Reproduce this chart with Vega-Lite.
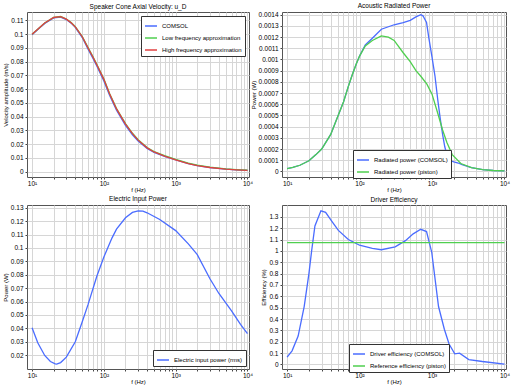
{
  "$schema": "https://vega.github.io/schema/vega-lite/v6.json",
  "padding": {"left": 1, "top": 2, "right": 2, "bottom": 0},
  "columns": 2,
  "align": "each",
  "bounds": "flush",
  "spacing": {"row": 28, "column": 33},
  "datasets": {
    "vel": [
      {"f":10,"v":0.0995,"s":"COMSOL"},{"f":12,"v":0.1032,"s":"COMSOL"},{"f":15,"v":0.1077,"s":"COMSOL"},{"f":20,"v":0.1117,"s":"COMSOL"},{"f":25,"v":0.1123,"s":"COMSOL"},{"f":30,"v":0.1105,"s":"COMSOL"},{"f":35,"v":0.1079,"s":"COMSOL"},{"f":40,"v":0.1049,"s":"COMSOL"},{"f":50,"v":0.0974,"s":"COMSOL"},{"f":60,"v":0.0892,"s":"COMSOL"},{"f":70,"v":0.0826,"s":"COMSOL"},{"f":80,"v":0.0765,"s":"COMSOL"},{"f":100,"v":0.0659,"s":"COMSOL"},{"f":120,"v":0.0554,"s":"COMSOL"},{"f":150,"v":0.0445,"s":"COMSOL"},{"f":200,"v":0.0336,"s":"COMSOL"},{"f":250,"v":0.0267,"s":"COMSOL"},{"f":300,"v":0.0221,"s":"COMSOL"},{"f":400,"v":0.0167,"s":"COMSOL"},{"f":500,"v":0.0138,"s":"COMSOL"},{"f":700,"v":0.0110,"s":"COMSOL"},{"f":1000,"v":0.0084,"s":"COMSOL"},{"f":1500,"v":0.0057,"s":"COMSOL"},{"f":2000,"v":0.0042,"s":"COMSOL"},{"f":3000,"v":0.0028,"s":"COMSOL"},{"f":5000,"v":0.0017,"s":"COMSOL"},{"f":7000,"v":0.0012,"s":"COMSOL"},{"f":10000,"v":0.0008,"s":"COMSOL"},
      {"f":10,"v":0.0998,"s":"Low frequency approximation"},{"f":12,"v":0.1035,"s":"Low frequency approximation"},{"f":15,"v":0.1080,"s":"Low frequency approximation"},{"f":20,"v":0.1121,"s":"Low frequency approximation"},{"f":25,"v":0.1127,"s":"Low frequency approximation"},{"f":30,"v":0.1109,"s":"Low frequency approximation"},{"f":35,"v":0.1083,"s":"Low frequency approximation"},{"f":40,"v":0.1053,"s":"Low frequency approximation"},{"f":50,"v":0.0982,"s":"Low frequency approximation"},{"f":60,"v":0.0903,"s":"Low frequency approximation"},{"f":70,"v":0.0838,"s":"Low frequency approximation"},{"f":80,"v":0.0778,"s":"Low frequency approximation"},{"f":100,"v":0.0673,"s":"Low frequency approximation"},{"f":120,"v":0.0568,"s":"Low frequency approximation"},{"f":150,"v":0.0458,"s":"Low frequency approximation"},{"f":200,"v":0.0348,"s":"Low frequency approximation"},{"f":250,"v":0.0278,"s":"Low frequency approximation"},{"f":300,"v":0.0231,"s":"Low frequency approximation"},{"f":400,"v":0.0175,"s":"Low frequency approximation"},{"f":500,"v":0.0145,"s":"Low frequency approximation"},{"f":700,"v":0.0115,"s":"Low frequency approximation"},{"f":1000,"v":0.0088,"s":"Low frequency approximation"},{"f":1500,"v":0.0061,"s":"Low frequency approximation"},{"f":2000,"v":0.0046,"s":"Low frequency approximation"},{"f":3000,"v":0.0032,"s":"Low frequency approximation"},{"f":5000,"v":0.0019,"s":"Low frequency approximation"},{"f":7000,"v":0.0014,"s":"Low frequency approximation"},{"f":10000,"v":0.0010,"s":"Low frequency approximation"},
      {"f":10,"v":0.0998,"s":"High frequency approximation"},{"f":12,"v":0.1035,"s":"High frequency approximation"},{"f":15,"v":0.1080,"s":"High frequency approximation"},{"f":20,"v":0.1120,"s":"High frequency approximation"},{"f":25,"v":0.1126,"s":"High frequency approximation"},{"f":30,"v":0.1108,"s":"High frequency approximation"},{"f":35,"v":0.1082,"s":"High frequency approximation"},{"f":40,"v":0.1052,"s":"High frequency approximation"},{"f":50,"v":0.0980,"s":"High frequency approximation"},{"f":60,"v":0.0900,"s":"High frequency approximation"},{"f":70,"v":0.0835,"s":"High frequency approximation"},{"f":80,"v":0.0775,"s":"High frequency approximation"},{"f":100,"v":0.0670,"s":"High frequency approximation"},{"f":120,"v":0.0565,"s":"High frequency approximation"},{"f":150,"v":0.0455,"s":"High frequency approximation"},{"f":200,"v":0.0345,"s":"High frequency approximation"},{"f":250,"v":0.0275,"s":"High frequency approximation"},{"f":300,"v":0.0228,"s":"High frequency approximation"},{"f":400,"v":0.0172,"s":"High frequency approximation"},{"f":500,"v":0.0142,"s":"High frequency approximation"},{"f":700,"v":0.0112,"s":"High frequency approximation"},{"f":1000,"v":0.0085,"s":"High frequency approximation"},{"f":1500,"v":0.0058,"s":"High frequency approximation"},{"f":2000,"v":0.0043,"s":"High frequency approximation"},{"f":3000,"v":0.0029,"s":"High frequency approximation"},{"f":5000,"v":0.0017,"s":"High frequency approximation"},{"f":7000,"v":0.0012,"s":"High frequency approximation"},{"f":10000,"v":0.0008,"s":"High frequency approximation"}
    ],
    "rad": [
      {"f":10,"p":0.000024,"s":"Radiated power (COMSOL)"},{"f":12,"p":0.000035,"s":"Radiated power (COMSOL)"},{"f":15,"p":0.000055,"s":"Radiated power (COMSOL)"},{"f":20,"p":0.000095,"s":"Radiated power (COMSOL)"},{"f":25,"p":0.00015,"s":"Radiated power (COMSOL)"},{"f":30,"p":0.0002,"s":"Radiated power (COMSOL)"},{"f":40,"p":0.00033,"s":"Radiated power (COMSOL)"},{"f":50,"p":0.00049,"s":"Radiated power (COMSOL)"},{"f":60,"p":0.00062,"s":"Radiated power (COMSOL)"},{"f":70,"p":0.00076,"s":"Radiated power (COMSOL)"},{"f":80,"p":0.00087,"s":"Radiated power (COMSOL)"},{"f":90,"p":0.00096,"s":"Radiated power (COMSOL)"},{"f":100,"p":0.00103,"s":"Radiated power (COMSOL)"},{"f":120,"p":0.00113,"s":"Radiated power (COMSOL)"},{"f":150,"p":0.00119,"s":"Radiated power (COMSOL)"},{"f":200,"p":0.00127,"s":"Radiated power (COMSOL)"},{"f":300,"p":0.00131,"s":"Radiated power (COMSOL)"},{"f":400,"p":0.00133,"s":"Radiated power (COMSOL)"},{"f":500,"p":0.00135,"s":"Radiated power (COMSOL)"},{"f":600,"p":0.00138,"s":"Radiated power (COMSOL)"},{"f":700,"p":0.0014,"s":"Radiated power (COMSOL)"},{"f":750,"p":0.00139,"s":"Radiated power (COMSOL)"},{"f":840,"p":0.00133,"s":"Radiated power (COMSOL)"},{"f":900,"p":0.0012,"s":"Radiated power (COMSOL)"},{"f":1000,"p":0.00102,"s":"Radiated power (COMSOL)"},{"f":1100,"p":0.00085,"s":"Radiated power (COMSOL)"},{"f":1200,"p":0.00064,"s":"Radiated power (COMSOL)"},{"f":1300,"p":0.00047,"s":"Radiated power (COMSOL)"},{"f":1400,"p":0.00033,"s":"Radiated power (COMSOL)"},{"f":1500,"p":0.00022,"s":"Radiated power (COMSOL)"},{"f":1650,"p":0.00012,"s":"Radiated power (COMSOL)"},{"f":1800,"p":0.000095,"s":"Radiated power (COMSOL)"},{"f":2000,"p":0.000085,"s":"Radiated power (COMSOL)"},{"f":2300,"p":0.000075,"s":"Radiated power (COMSOL)"},{"f":2600,"p":0.00006,"s":"Radiated power (COMSOL)"},{"f":3500,"p":0.000033,"s":"Radiated power (COMSOL)"},{"f":5000,"p":0.000015,"s":"Radiated power (COMSOL)"},{"f":7000,"p":0.000008,"s":"Radiated power (COMSOL)"},{"f":10000,"p":0.000004,"s":"Radiated power (COMSOL)"},
      {"f":10,"p":0.000024,"s":"Radiated power (piston)"},{"f":12,"p":0.000035,"s":"Radiated power (piston)"},{"f":15,"p":0.000055,"s":"Radiated power (piston)"},{"f":20,"p":0.000095,"s":"Radiated power (piston)"},{"f":25,"p":0.00015,"s":"Radiated power (piston)"},{"f":30,"p":0.0002,"s":"Radiated power (piston)"},{"f":40,"p":0.00033,"s":"Radiated power (piston)"},{"f":50,"p":0.00049,"s":"Radiated power (piston)"},{"f":60,"p":0.00062,"s":"Radiated power (piston)"},{"f":70,"p":0.00076,"s":"Radiated power (piston)"},{"f":80,"p":0.00087,"s":"Radiated power (piston)"},{"f":90,"p":0.00096,"s":"Radiated power (piston)"},{"f":100,"p":0.00103,"s":"Radiated power (piston)"},{"f":120,"p":0.00112,"s":"Radiated power (piston)"},{"f":150,"p":0.00117,"s":"Radiated power (piston)"},{"f":200,"p":0.00121,"s":"Radiated power (piston)"},{"f":250,"p":0.0012,"s":"Radiated power (piston)"},{"f":300,"p":0.00117,"s":"Radiated power (piston)"},{"f":400,"p":0.00106,"s":"Radiated power (piston)"},{"f":500,"p":0.00098,"s":"Radiated power (piston)"},{"f":600,"p":0.0009,"s":"Radiated power (piston)"},{"f":700,"p":0.00085,"s":"Radiated power (piston)"},{"f":850,"p":0.00078,"s":"Radiated power (piston)"},{"f":1000,"p":0.00069,"s":"Radiated power (piston)"},{"f":1200,"p":0.00052,"s":"Radiated power (piston)"},{"f":1400,"p":0.00037,"s":"Radiated power (piston)"},{"f":1600,"p":0.00026,"s":"Radiated power (piston)"},{"f":1900,"p":0.00015,"s":"Radiated power (piston)"},{"f":2500,"p":0.00007,"s":"Radiated power (piston)"},{"f":3500,"p":0.000033,"s":"Radiated power (piston)"},{"f":5000,"p":0.000015,"s":"Radiated power (piston)"},{"f":7000,"p":0.000008,"s":"Radiated power (piston)"},{"f":10000,"p":0.000004,"s":"Radiated power (piston)"}
    ],
    "elec": [
      {"f":10,"p":0.0404,"s":"Electric input power (rms)"},{"f":12,"p":0.0293,"s":"Electric input power (rms)"},{"f":15,"p":0.0198,"s":"Electric input power (rms)"},{"f":18,"p":0.0153,"s":"Electric input power (rms)"},{"f":21,"p":0.0135,"s":"Electric input power (rms)"},{"f":22,"p":0.0134,"s":"Electric input power (rms)"},{"f":25,"p":0.0145,"s":"Electric input power (rms)"},{"f":30,"p":0.0185,"s":"Electric input power (rms)"},{"f":40,"p":0.0300,"s":"Electric input power (rms)"},{"f":50,"p":0.0450,"s":"Electric input power (rms)"},{"f":60,"p":0.0575,"s":"Electric input power (rms)"},{"f":80,"p":0.0790,"s":"Electric input power (rms)"},{"f":100,"p":0.0932,"s":"Electric input power (rms)"},{"f":130,"p":0.1075,"s":"Electric input power (rms)"},{"f":150,"p":0.1140,"s":"Electric input power (rms)"},{"f":200,"p":0.1225,"s":"Electric input power (rms)"},{"f":250,"p":0.1265,"s":"Electric input power (rms)"},{"f":300,"p":0.1276,"s":"Electric input power (rms)"},{"f":350,"p":0.1275,"s":"Electric input power (rms)"},{"f":400,"p":0.1262,"s":"Electric input power (rms)"},{"f":600,"p":0.1212,"s":"Electric input power (rms)"},{"f":1000,"p":0.1129,"s":"Electric input power (rms)"},{"f":1500,"p":0.1030,"s":"Electric input power (rms)"},{"f":2000,"p":0.0950,"s":"Electric input power (rms)"},{"f":3000,"p":0.0770,"s":"Electric input power (rms)"},{"f":4000,"p":0.0660,"s":"Electric input power (rms)"},{"f":6000,"p":0.0530,"s":"Electric input power (rms)"},{"f":8000,"p":0.0430,"s":"Electric input power (rms)"},{"f":10000,"p":0.0360,"s":"Electric input power (rms)"}
    ],
    "eff": [
      {"f":10,"e":0.064,"s":"Driver efficiency (COMSOL)"},{"f":11.7,"e":0.12,"s":"Driver efficiency (COMSOL)"},{"f":14.2,"e":0.25,"s":"Driver efficiency (COMSOL)"},{"f":17.2,"e":0.51,"s":"Driver efficiency (COMSOL)"},{"f":20,"e":0.80,"s":"Driver efficiency (COMSOL)"},{"f":21.8,"e":1.0,"s":"Driver efficiency (COMSOL)"},{"f":24.2,"e":1.22,"s":"Driver efficiency (COMSOL)"},{"f":29.3,"e":1.353,"s":"Driver efficiency (COMSOL)"},{"f":34,"e":1.34,"s":"Driver efficiency (COMSOL)"},{"f":41,"e":1.265,"s":"Driver efficiency (COMSOL)"},{"f":51,"e":1.18,"s":"Driver efficiency (COMSOL)"},{"f":70,"e":1.10,"s":"Driver efficiency (COMSOL)"},{"f":100,"e":1.05,"s":"Driver efficiency (COMSOL)"},{"f":150,"e":1.022,"s":"Driver efficiency (COMSOL)"},{"f":200,"e":1.01,"s":"Driver efficiency (COMSOL)"},{"f":310,"e":1.035,"s":"Driver efficiency (COMSOL)"},{"f":430,"e":1.09,"s":"Driver efficiency (COMSOL)"},{"f":550,"e":1.15,"s":"Driver efficiency (COMSOL)"},{"f":700,"e":1.19,"s":"Driver efficiency (COMSOL)"},{"f":840,"e":1.17,"s":"Driver efficiency (COMSOL)"},{"f":990,"e":0.99,"s":"Driver efficiency (COMSOL)"},{"f":1230,"e":0.51,"s":"Driver efficiency (COMSOL)"},{"f":1480,"e":0.31,"s":"Driver efficiency (COMSOL)"},{"f":1720,"e":0.18,"s":"Driver efficiency (COMSOL)"},{"f":2060,"e":0.093,"s":"Driver efficiency (COMSOL)"},{"f":2400,"e":0.099,"s":"Driver efficiency (COMSOL)"},{"f":3220,"e":0.043,"s":"Driver efficiency (COMSOL)"},{"f":4960,"e":0.026,"s":"Driver efficiency (COMSOL)"},{"f":10000,"e":0.003,"s":"Driver efficiency (COMSOL)"},
      {"f":10,"e":1.072,"s":"Reference efficiency (piston)"},{"f":10000,"e":1.072,"s":"Reference efficiency (piston)"}
    ]
  },
  "concat": [
    {
      "title": "Speaker Cone Axial Velocity: u_D",
      "width": 222, "height": 165,
      "data": {"name": "vel"},
      "mark": {"type": "line", "strokeWidth": 1.3},
      "encoding": {
        "x": {"field": "f", "type": "quantitative", "scale": {"type": "log", "domain": [8.5, 10500], "nice": false},
              "axis": {"title": "f (Hz)", "values": [10,20,30,40,50,60,70,80,90,100,200,300,400,500,600,700,800,900,1000,2000,3000,4000,5000,6000,7000,8000,9000,10000],
                       "labelExpr": "datum.value == 10 ? '10¹' : datum.value == 100 ? '10²' : datum.value == 1000 ? '10³' : datum.value == 10000 ? '10⁴' : ''", "labelOverlap": false, "labelFlush": false}},
        "y": {"field": "v", "type": "quantitative", "scale": {"domain": [-0.004, 0.116], "nice": false, "zero": false},
              "axis": {"title": "Velocity amplitude (m/s)", "values": [0,0.01,0.02,0.03,0.04,0.05,0.06,0.07,0.08,0.09,0.1,0.11], "format": "~g"}},
        "color": {"field": "s", "type": "nominal",
                  "scale": {"domain": ["COMSOL", "Low frequency approximation", "High frequency approximation"], "range": ["#4a6cff", "#4fcf4f", "#e04040"]},
                  "legend": {"title": null, "orient": "top-right", "offset": 4}}
      }
    },
    {
      "title": "Acoustic Radiated Power",
      "width": 224, "height": 165,
      "data": {"name": "rad"},
      "mark": {"type": "line", "strokeWidth": 1.3},
      "encoding": {
        "x": {"field": "f", "type": "quantitative", "scale": {"type": "log", "domain": [8.5, 10500], "nice": false},
              "axis": {"title": "f (Hz)", "values": [10,20,30,40,50,60,70,80,90,100,200,300,400,500,600,700,800,900,1000,2000,3000,4000,5000,6000,7000,8000,9000,10000],
                       "labelExpr": "datum.value == 10 ? '10¹' : datum.value == 100 ? '10²' : datum.value == 1000 ? '10³' : datum.value == 10000 ? '10⁴' : ''", "labelOverlap": false, "labelFlush": false}},
        "y": {"field": "p", "type": "quantitative", "scale": {"domain": [-0.00005, 0.001424], "nice": false, "zero": false},
              "axis": {"title": "Power (W)", "values": [0,0.0001,0.0002,0.0003,0.0004,0.0005,0.0006,0.0007,0.0008,0.0009,0.001,0.0011,0.0012,0.0013,0.0014], "format": "~g"}},
        "color": {"field": "s", "type": "nominal",
                  "scale": {"domain": ["Radiated power (COMSOL)", "Radiated power (piston)"], "range": ["#4a6cff", "#4fcf4f"]},
                  "legend": {"title": null, "orient": "none", "legendX": 71, "legendY": 138}}
      }
    },
    {
      "title": "Electric Input Power",
      "width": 222, "height": 164,
      "data": {"name": "elec"},
      "mark": {"type": "line", "strokeWidth": 1.3},
      "encoding": {
        "x": {"field": "f", "type": "quantitative", "scale": {"type": "log", "domain": [8.5, 10500], "nice": false},
              "axis": {"title": "f (Hz)", "values": [10,20,30,40,50,60,70,80,90,100,200,300,400,500,600,700,800,900,1000,2000,3000,4000,5000,6000,7000,8000,9000,10000],
                       "labelExpr": "datum.value == 10 ? '10¹' : datum.value == 100 ? '10²' : datum.value == 1000 ? '10³' : datum.value == 10000 ? '10⁴' : ''", "labelOverlap": false, "labelFlush": false}},
        "y": {"field": "p", "type": "quantitative", "scale": {"domain": [0.0097, 0.132], "nice": false, "zero": false},
              "axis": {"title": "Power (W)", "values": [0.02,0.03,0.04,0.05,0.06,0.07,0.08,0.09,0.1,0.11,0.12,0.13], "format": "~g"}},
        "color": {"field": "s", "type": "nominal",
                  "scale": {"domain": ["Electric input power (rms)"], "range": ["#4a6cff"]},
                  "legend": {"title": null, "orient": "bottom-right", "offset": 3}}
      }
    },
    {
      "title": "Driver Efficiency",
      "width": 224, "height": 164,
      "data": {"name": "eff"},
      "mark": {"type": "line", "strokeWidth": 1.3},
      "encoding": {
        "x": {"field": "f", "type": "quantitative", "scale": {"type": "log", "domain": [8.5, 10500], "nice": false},
              "axis": {"title": "f (Hz)", "values": [10,20,30,40,50,60,70,80,90,100,200,300,400,500,600,700,800,900,1000,2000,3000,4000,5000,6000,7000,8000,9000,10000],
                       "labelExpr": "datum.value == 10 ? '10¹' : datum.value == 100 ? '10²' : datum.value == 1000 ? '10³' : datum.value == 10000 ? '10⁴' : ''", "labelOverlap": false, "labelFlush": false}},
        "y": {"field": "e", "type": "quantitative", "scale": {"domain": [-0.04, 1.404], "nice": false, "zero": false},
              "axis": {"title": "Efficiency (%)", "values": [0,0.1,0.2,0.3,0.4,0.5,0.6,0.7,0.8,0.9,1,1.1,1.2,1.3], "format": "~g"}},
        "color": {"field": "s", "type": "nominal",
                  "scale": {"domain": ["Driver efficiency (COMSOL)", "Reference efficiency (piston)"], "range": ["#4a6cff", "#4fcf4f"]},
                  "legend": {"title": null, "orient": "none", "legendX": 67, "legendY": 139}}
      }
    }
  ],
  "resolve": {"scale": {"x": "independent", "y": "independent", "color": "independent"}, "legend": {"color": "independent"}},
  "config": {
    "font": "Liberation Sans",
    "view": {"stroke": "#555", "strokeWidth": 1},
    "title": {"fontSize": 6.5, "fontWeight": "normal", "font": "Liberation Sans", "offset": 2, "color": "#000"},
    "axis": {"labelFontSize": 6.5, "titleFontSize": 6, "titleFontWeight": "normal", "labelFont": "Liberation Sans", "titleFont": "Liberation Sans",
             "labelColor": "#000", "titleColor": "#000", "grid": true, "gridColor": "#d6d6d6", "gridWidth": 1, "gridOpacity": 1, "domain": false,
             "tickColor": "#444", "tickSize": 2, "labelPadding": 2, "titlePadding": 2},
    "axisX": {"labelPadding": 1, "titlePadding": 0},
    "legend": {"labelFontSize": 6, "labelFont": "Liberation Sans", "labelColor": "#000", "symbolType": "stroke", "symbolSize": 144, "symbolStrokeWidth": 1.5,
               "strokeColor": "#333", "fillColor": "#fff", "padding": 3, "rowPadding": 2, "labelLimit": 300, "cornerRadius": 0}
  }
}
